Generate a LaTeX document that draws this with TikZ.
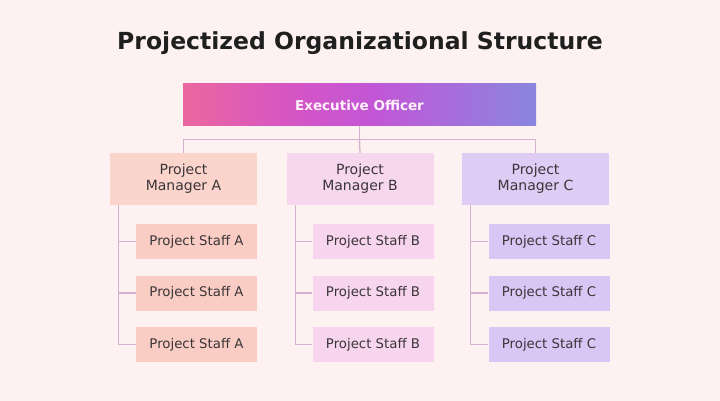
\documentclass[tikz,border=0pt]{standalone}
\usepackage{fontspec}
\setmainfont{DejaVu Sans}
\definecolor{bg}{HTML}{FDF1F1}
\definecolor{mgA}{HTML}{FBD4CB}
\definecolor{mgB}{HTML}{F7D7EE}
\definecolor{mgC}{HTML}{DFCCF5}
\definecolor{stA}{HTML}{F9CCC4}
\definecolor{stB}{HTML}{F7D5EE}
\definecolor{stC}{HTML}{D9C6F4}
\definecolor{lineC}{HTML}{D2B2CC}
\definecolor{txt}{HTML}{3A3538}
\definecolor{gA}{HTML}{EB679F}
\definecolor{gB}{HTML}{D655C4}
\definecolor{gC}{HTML}{C256D6}
\definecolor{gD}{HTML}{8A86DF}
\pgfdeclarehorizontalshading{execgrad}{100bp}{
  color(0bp)=(gA);
  color(25bp)=(gA);
  color(40bp)=(gB);
  color(52bp)=(gC);
  color(75bp)=(gD);
  color(100bp)=(gD)}
\tikzset{
  mgr/.style={rectangle, minimum width=147pt, minimum height=52pt, inner sep=0pt, align=center, text=txt, font=\fontsize{14}{16}\selectfont},
  staff/.style={rectangle, minimum width=121pt, minimum height=35pt, inner sep=0pt, text=txt, font=\fontsize{13.3}{15}\selectfont},
  conn/.style={draw=lineC, line width=1.3pt},
}
\begin{document}
\begin{tikzpicture}[x=1pt, y=-1pt]
\useasboundingbox[fill=bg] (0,0) rectangle (720,401);
\node[font=\bfseries\fontsize{23.5}{28}\selectfont, text=black!88] (title) at (360,43) {Projectized Organizational Structure};
\node[rectangle, minimum width=353pt, minimum height=42pt, inner sep=0pt, shading=execgrad, text=white!94!magenta, font=\bfseries\fontsize{13.5}{16}\selectfont] (exec) at (359.5,105) {Executive Officer};
\node[mgr, fill=mgA] (mA) at (183.5,179) {Project\\Manager A};
\node[mgr, fill=mgB] (mB) at (360,179) {Project\\Manager B};
\node[mgr, fill=mgC] (mC) at (535.5,179) {Project\\Manager C};
\foreach \c/\x in {A/196.5, B/373, C/549} {
  \node[staff, fill=st\c] (s\c1) at (\x,241.5) {Project Staff \c};
  \node[staff, fill=st\c] (s\c2) at (\x,293) {Project Staff \c};
  \node[staff, fill=st\c] (s\c3) at (\x,344.5) {Project Staff \c};
}
\coordinate (j) at ([yshift=-13pt]exec.south);
\draw[conn] (exec.south) -- (j);
\draw[conn] (mA.north) |- (j) -| (mC.north);
\draw[conn] (j) -- (mB.north);
\foreach \c in {A,B,C} {
  \coordinate (t\c) at ([xshift=9pt]m\c.south west);
  \draw[conn] (t\c) |- (s\c3.west);
  \draw[conn] (t\c |- s\c1.west) -- (s\c1.west);
  \draw[conn] (t\c |- s\c2.west) -- (s\c2.west);
}
\end{tikzpicture}
\end{document}
